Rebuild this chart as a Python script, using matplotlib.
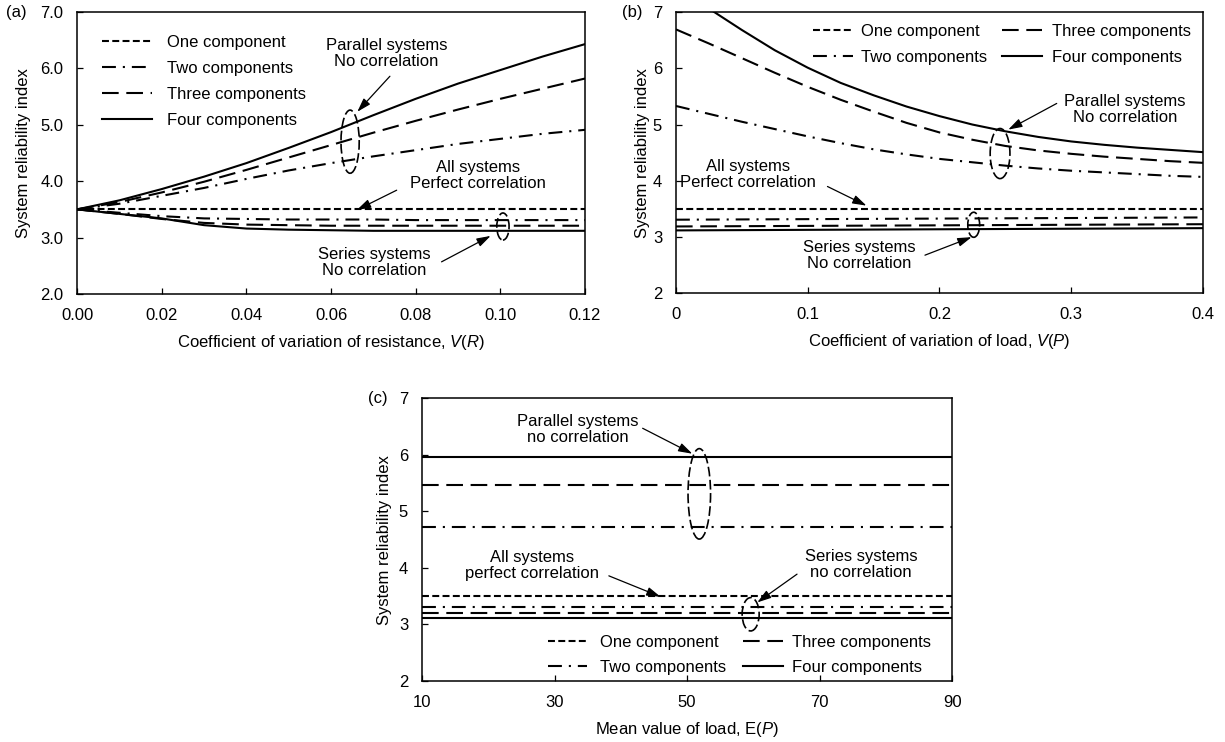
import matplotlib
matplotlib.use("Agg")
import matplotlib.pyplot as plt
from matplotlib.legend import Legend
from matplotlib.patches import Ellipse

plt.rcParams["font.family"] = ["Liberation Sans", "DejaVu Sans"]
plt.rcParams["font.size"] = 12
plt.rcParams["mathtext.fontset"] = "custom"
plt.rcParams["mathtext.rm"] = "Liberation Sans"
plt.rcParams["mathtext.it"] = "Liberation Sans:italic"
plt.rcParams["lines.scale_dashes"] = False

LABELS = ["One component", "Two components", "Three components", "Four components"]

# (a) coefficient of variation of resistance
a_x = [0.00, 0.01, 0.02, 0.03, 0.04, 0.05, 0.06, 0.07, 0.08, 0.09, 0.10, 0.11, 0.12]
a_par_two = [3.50, 3.60, 3.74, 3.88, 4.04, 4.19, 4.32, 4.44, 4.55, 4.66, 4.75, 4.84, 4.91]
a_par_three = [3.50, 3.63, 3.80, 3.99, 4.20, 4.42, 4.64, 4.86, 5.07, 5.27, 5.46, 5.64, 5.82]
a_par_four = [3.50, 3.66, 3.86, 4.08, 4.32, 4.59, 4.87, 5.17, 5.46, 5.73, 5.97, 6.21, 6.43]
a_ser_one = [3.50, 3.50, 3.50, 3.50, 3.50, 3.50, 3.50, 3.50, 3.50, 3.50, 3.50, 3.50, 3.50]
a_ser_two = [3.50, 3.44, 3.38, 3.34, 3.33, 3.32, 3.32, 3.32, 3.31, 3.31, 3.31, 3.31, 3.31]
a_ser_three = [3.50, 3.42, 3.33, 3.26, 3.23, 3.22, 3.21, 3.21, 3.21, 3.21, 3.21, 3.21, 3.21]
a_ser_four = [3.50, 3.42, 3.34, 3.22, 3.16, 3.14, 3.13, 3.12, 3.12, 3.12, 3.12, 3.12, 3.12]

# (b) coefficient of variation of load
b_x = [0.000, 0.025, 0.050, 0.075, 0.100, 0.125, 0.150, 0.175, 0.200,
       0.225, 0.250, 0.275, 0.300, 0.325, 0.350, 0.375, 0.400]
b_par_two = [5.33, 5.19, 5.05, 4.92, 4.79, 4.67, 4.56, 4.47, 4.39,
             4.33, 4.27, 4.22, 4.18, 4.15, 4.12, 4.09, 4.07]
b_par_three = [6.69, 6.44, 6.18, 5.92, 5.67, 5.44, 5.23, 5.03, 4.86,
               4.73, 4.62, 4.54, 4.48, 4.43, 4.39, 4.35, 4.32]
b_par_four = [7.46, 7.06, 6.68, 6.32, 6.01, 5.74, 5.52, 5.32, 5.15,
              5.00, 4.88, 4.78, 4.70, 4.64, 4.59, 4.55, 4.51]
b_ser_x = [0.0, 0.2, 0.4]
b_ser_one = [3.50, 3.50, 3.50]
b_ser_two = [3.31, 3.33, 3.35]
b_ser_three = [3.19, 3.21, 3.23]
b_ser_four = [3.12, 3.14, 3.16]

# (c) mean value of load
c_x = [10, 90]
c_par_two = [4.73, 4.73]
c_par_three = [5.47, 5.47]
c_par_four = [5.97, 5.97]
c_ser_one = [3.50, 3.50]
c_ser_two = [3.31, 3.31]
c_ser_three = [3.20, 3.20]
c_ser_four = [3.12, 3.12]

STYLE = {
    "one": (0, (5, 2.4)),
    "two": (0, (10, 5, 1.5, 5)),
    "three": (0, (12, 5.5)),
    "four": "-",
}
LW = 1.5
ARROW = dict(arrowstyle="-|>,head_length=0.7,head_width=0.22", color="black",
             lw=0.9, mutation_scale=12, shrinkA=0, shrinkB=0)


def draw_lines(ax, x, series):
    # series: list of (values, style key); returns the Line2D objects in order
    out = []
    for y, key in series:
        line, = ax.plot(x, y, color="black", lw=LW, ls=STYLE[key])
        out.append(line)
    return out


def add_legend(ax, handles, labels, x, y, hlen, hpad, lspace=0.66):
    leg = Legend(ax, handles, labels, loc="center left", bbox_to_anchor=(x, y),
                 bbox_transform=ax.transData, frameon=False, borderpad=0,
                 borderaxespad=0, handlelength=hlen, handletextpad=hpad,
                 labelspacing=lspace)
    ax.add_artist(leg)


def note(ax, text, xy, tail, tip):
    ax.text(xy[0], xy[1], text, ha="center", va="center", linespacing=1.1)
    ax.annotate("", xy=tip, xytext=tail, arrowprops=ARROW)


def ring(ax, center, w, h):
    ax.add_patch(Ellipse(center, w, h, fill=False, ec="black", lw=1.2,
                         ls=(0, (7, 2.5))))


def style_axes(ax, xlabel):
    ax.tick_params(direction="in", length=4, width=0.9)
    ax.tick_params(axis="x", pad=10)
    ax.tick_params(axis="y", pad=10)
    for s in ax.spines.values():
        s.set_linewidth(1.1)
    ax.set_xlabel(xlabel, labelpad=7)
    ax.set_ylabel("System reliability index")


fig = plt.figure(figsize=(12.25, 7.42), dpi=100)
ax_a = fig.add_axes([0.0629, 0.6038, 0.4147, 0.3801])
ax_b = fig.add_axes([0.5518, 0.6045, 0.4302, 0.3794])
ax_c = fig.add_axes([0.3445, 0.0822, 0.4327, 0.3810])

# ---- (a)
ser = draw_lines(ax_a, a_x, [(a_ser_one, "one"), (a_ser_two, "two"),
                             (a_ser_three, "three"), (a_ser_four, "four")])
par = draw_lines(ax_a, a_x, [(a_par_two, "two"), (a_par_three, "three"),
                             (a_par_four, "four")])
ax_a.set_xlim(0, 0.12)
ax_a.set_ylim(2, 7)
ax_a.set_xticks([0.00, 0.02, 0.04, 0.06, 0.08, 0.10, 0.12])
ax_a.set_xticklabels(["0.00", "0.02", "0.04", "0.06", "0.08", "0.10", "0.12"])
ax_a.set_yticks([2, 3, 4, 5, 6, 7])
ax_a.set_yticklabels(["2.0", "3.0", "4.0", "5.0", "6.0", "7.0"])
style_axes(ax_a, "Coefficient of variation of resistance, $V$($R$)")
ax_a.yaxis.set_label_coords(-0.091, 0.5)
add_legend(ax_a, [ser[0]] + par, LABELS, 0.006, 5.768, 2.95, 0.9)
note(ax_a, "Parallel systems\nNo correlation", (0.0731, 6.27), (0.0739, 5.86), (0.0662, 5.23))
ring(ax_a, (0.0645, 4.70), 0.0043, 1.12)
note(ax_a, "All systems\nPerfect correlation", (0.0947, 4.10), (0.0755, 3.84), (0.0661, 3.49))
note(ax_a, "Series systems\nNo correlation", (0.0703, 2.555), (0.0861, 2.57), (0.0977, 3.03))
ring(ax_a, (0.1006, 3.196), 0.0029, 0.48)

# ---- (b)
ser = draw_lines(ax_b, b_ser_x, [(b_ser_one, "one"), (b_ser_two, "two"),
                                 (b_ser_three, "three"), (b_ser_four, "four")])
par = draw_lines(ax_b, b_x, [(b_par_two, "two"), (b_par_three, "three"),
                             (b_par_four, "four")])
ax_b.set_xlim(0, 0.4)
ax_b.set_ylim(2, 7)
ax_b.set_xticks([0.0, 0.1, 0.2, 0.3, 0.4])
ax_b.set_xticklabels(["0", "0.1", "0.2", "0.3", "0.4"])
ax_b.set_yticks([2, 3, 4, 5, 6, 7])
style_axes(ax_b, "Coefficient of variation of load, $V$($P$)")
ax_b.yaxis.set_label_coords(-0.050, 0.5)
add_legend(ax_b, [ser[0], par[0]], LABELS[:2], 0.104, 6.43, 2.4, 0.5)
add_legend(ax_b, [par[1], par[2]], LABELS[2:], 0.2471, 6.43, 2.4, 0.6)
note(ax_b, "Parallel systems\nNo correlation", (0.3406, 5.265), (0.289, 5.375), (0.2522, 4.91))
ring(ax_b, (0.246, 4.485), 0.015, 0.89)
note(ax_b, "All systems\nPerfect correlation", (0.0546, 4.11), (0.115, 3.90), (0.1446, 3.56))
note(ax_b, "Series systems\nNo correlation", (0.139, 2.675), (0.189, 2.68), (0.2244, 3.0))
ring(ax_b, (0.226, 3.22), 0.009, 0.445)

# ---- (c)
ser = draw_lines(ax_c, c_x, [(c_ser_one, "one"), (c_ser_two, "two"),
                             (c_ser_three, "three"), (c_ser_four, "four")])
par = draw_lines(ax_c, c_x, [(c_par_two, "two"), (c_par_three, "three"),
                             (c_par_four, "four")])
ax_c.set_xlim(10, 90)
ax_c.set_ylim(2, 7)
ax_c.set_xticks([10, 30, 50, 70, 90])
ax_c.set_yticks([2, 3, 4, 5, 6, 7])
style_axes(ax_c, "Mean value of load, E($P$)")
ax_c.yaxis.set_label_coords(-0.057, 0.5)
add_legend(ax_c, [ser[0], par[0]], LABELS[:2], 29.0, 2.46, 2.35, 0.8, 0.6)
add_legend(ax_c, [par[1], par[2]], LABELS[2:], 58.5, 2.46, 2.35, 0.55, 0.6)
note(ax_c, "Parallel systems\nno correlation", (33.46, 6.445), (43.3, 6.47), (50.8, 6.02))
ring(ax_c, (51.85, 5.31), 3.4, 1.6)
note(ax_c, "All systems\nperfect correlation", (26.6, 4.045), (38.2, 3.86), (46.0, 3.49))
note(ax_c, "Series systems\nno correlation", (76.3, 4.065), (66.6, 3.89), (60.6, 3.39))
ring(ax_c, (59.6, 3.18), 2.57, 0.59)

fig.text(16 / 1225, 1 - 13 / 742, "(a)", ha="center", va="center")
fig.text(632 / 1225, 1 - 13 / 742, "(b)", ha="center", va="center")
fig.text(378 / 1225, 1 - 399 / 742, "(c)", ha="center", va="center")

fig.savefig("out.png", dpi=100)
